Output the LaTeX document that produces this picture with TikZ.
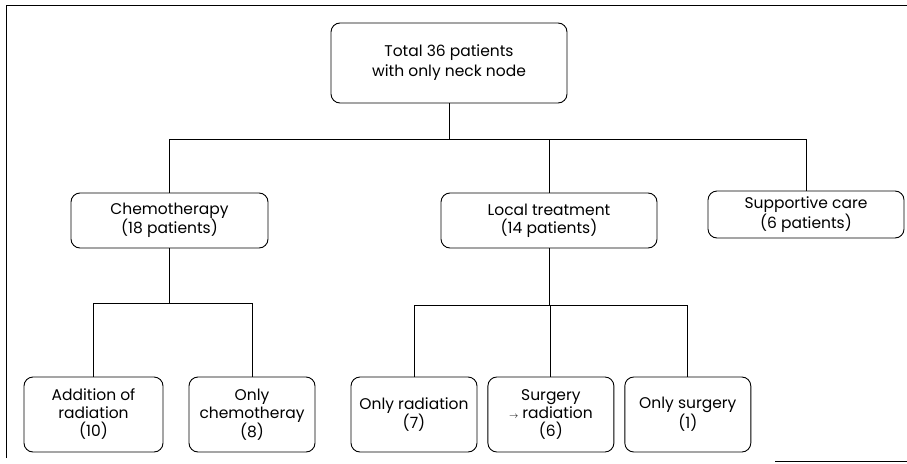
\documentclass[tikz,border=0pt]{standalone}
\usepackage{fontspec}
\setmainfont{Poppins}
\usepackage{tikz}
\usetikzlibrary{positioning}

\tikzset{
  box/.style={draw, line width=0.9pt, rounded corners=9pt, align=center,
    inner sep=0pt, minimum width=197pt, minimum height=55pt,
    font=\fontsize{15.5}{18}\selectfont},
  leaf/.style={box, minimum width=126pt, minimum height=75pt},
  link/.style={line width=0.9pt}
}

\begin{document}
\begin{tikzpicture}[x=1pt, y=1pt, node distance=10pt]
        \useasboundingbox (0,0) rectangle (907,-463);
        \draw[link] (6,-458) -- (6,-5) -- (907,-5);
        \draw[link] (775,-461) -- (907,-461);

        \node[box, minimum width=236pt, minimum height=80pt,
              font=\fontsize{15.5}{20}\selectfont] (total) at (449,-63)
              {Total 36 patients\\with only neck node};
        \node[box] (chemo) at (169.5,-220.5) {Chemotherapy\\(18 patients)};
        \node[box, minimum width=216pt] (local) at (549,-220.5) {Local treatment\\(14 patients)};
        \node[box, minimum width=196pt, minimum height=47pt] (care) at (806,-214.5)
              {Supportive care\\(6 patients)};

        \node[leaf, minimum width=139pt] (addrad) at (93.5,-414.5) {Addition of\\radiation\\(10)};
        \node[leaf] (onlychemo) at (252,-414.5) {Only\\chemotheray\\(8)};
        \node[leaf] (onlyrad) at (414,-414.5) {Only radiation\\(7)};
        \node[leaf] (surgrad) [right = of onlyrad] {Surgery\\{\small$\rightarrow$}\ radiation\\(6)};
        \node[leaf] (onlysurg) [right = of surgrad] {Only surgery\\(1)};

        \draw[link] (total.south) -- ++(0,-36) coordinate (tjoin);
        \draw[link] (chemo.north) |- (tjoin) -| (care.north);
        \draw[link] (local.north) -- (local.north |- tjoin);

        \draw[link] (chemo.south) -- ++(0,-55) coordinate (cjoin);
        \draw[link] (addrad.north) |- (cjoin) -| (onlychemo.north);

        \draw[link] (local.south) -- ++(0,-57) coordinate (ljoin);
        \draw[link] (onlyrad.north) |- (ljoin) -| (onlysurg.north);
        \draw[link] (surgrad.north) -- (surgrad.north |- ljoin);
\end{tikzpicture}
\end{document}
